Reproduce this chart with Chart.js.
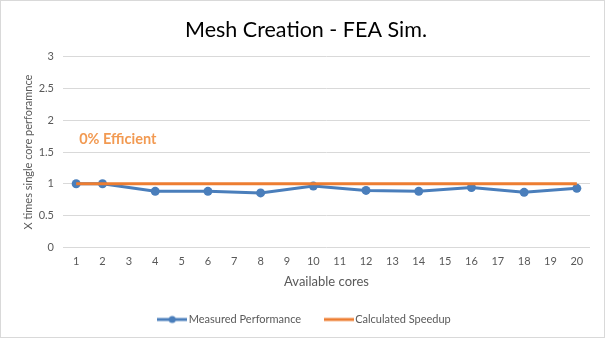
<!DOCTYPE html>
<html>
<head>
<meta charset="utf-8">
<script src="https://cdn.jsdelivr.net/npm/chart.js@4/dist/chart.umd.min.js"></script>
<style>
html,body{margin:0;padding:0;background:#fff;}
#wrap{width:605px;height:338px;position:relative;}
</style>
</head>
<body>
<div id="wrap"><canvas id="c" width="605" height="338"></canvas></div>
<script>
const categories = ['1','2','3','4','5','6','7','8','9','10','11','12','13','14','15','16','17','18','19','20'];
const measured = [1.0, 1.0, null, 0.88, null, 0.88, null, 0.855, null, 0.963, null, 0.895, null, 0.88, null, 0.94, null, 0.864, null, 0.927];
const calculated = [1,1,1,1,1,1,1,1,1,1,1,1,1,1,1,1,1,1,1,1];
const yTicks = [0, 0.5, 1, 1.5, 2, 2.5, 3];
const annotationText = '0% Efficient';
const annotationAt = {index: 0, value: 1.7};

const BLUE = '#4A7EBB';
const ORANGE = '#ED7D31';
const FONT = 'Lato, "Open Sans", sans-serif';

function legendImage(color, dot) {
  const c = document.createElement('canvas');
  c.width = 30; c.height = 10;
  const g = c.getContext('2d');
  g.strokeStyle = color; g.lineWidth = 3;
  g.beginPath(); g.moveTo(0,5); g.lineTo(30,5); g.stroke();
  if (dot) { g.fillStyle = color; g.beginPath(); g.arc(15,5,3.5,0,Math.PI*2); g.fill(); }
  return c;
}
const legBlue = legendImage(BLUE, true);
const legOrange = legendImage(ORANGE, false);

const extras = {
  id: 'extras',
  afterDraw(chart) {
    const ctx = chart.ctx;
    ctx.save();
    ctx.strokeStyle = '#d9d9d9';
    ctx.lineWidth = 1;
    ctx.strokeRect(0.5, 0.5, chart.width - 1, chart.height - 1);
    const xs = chart.scales.x, ys = chart.scales.y;
    ctx.font = 'bold 14.5px ' + FONT;
    ctx.fillStyle = '#F29A52';
    ctx.textAlign = 'left';
    ctx.textBaseline = 'middle';
    ctx.fillText(annotationText, xs.getPixelForValue(annotationAt.index) + 3, ys.getPixelForValue(annotationAt.value));
    ctx.restore();
  }
};

new Chart(document.getElementById('c'), {
  type: 'line',
  data: {
    labels: categories,
    datasets: [
      {
        label: 'Measured Performance',
        data: measured,
        borderColor: BLUE,
        backgroundColor: BLUE,
        borderWidth: 3,
        pointRadius: 4.5,
        pointHoverRadius: 4.5,
        pointBorderWidth: 0,
        spanGaps: true,
        tension: 0,
        order: 2
      },
      {
        label: 'Calculated Speedup',
        data: calculated,
        borderColor: ORANGE,
        backgroundColor: ORANGE,
        borderWidth: 3,
        pointRadius: 0,
        tension: 0,
        order: 1
      }
    ]
  },
  options: {
    responsive: false,
    animation: false,
    devicePixelRatio: 1,
    layout: {padding: {left: 22, right: 15, top: 13, bottom: 3}},
    plugins: {
      title: {
        display: true,
        text: 'Mesh Creation - FEA Sim.',
        color: '#000',
        font: {family: FONT, size: 21.5, weight: 'normal'},
        padding: {top: 4, bottom: 14}
      },
      legend: {
        position: 'bottom',
        labels: {
          color: '#595959',
          font: {family: FONT, size: 11},
          usePointStyle: true,
          pointStyleWidth: 22,
          boxHeight: 8,
          padding: 10,
          generateLabels(chart) {
            return [
              {text: 'Measured Performance\u2003\u2003', pointStyle: legBlue, fillStyle: BLUE, strokeStyle: BLUE, lineWidth: 0, datasetIndex: 0, fontColor: '#595959'},
              {text: 'Calculated Speedup', pointStyle: legOrange, fillStyle: ORANGE, strokeStyle: ORANGE, lineWidth: 0, datasetIndex: 1, fontColor: '#595959'}
            ];
          }
        }
      },
      tooltip: {enabled: false}
    },
    scales: {
      x: {
        offset: true,
        grid: {display: false},
        border: {display: false},
        ticks: {color: '#595959', font: {family: FONT, size: 11}, maxRotation: 0, autoSkip: false, padding: 0},
        title: {display: true, text: 'Available cores', color: '#595959', font: {family: FONT, size: 13}, padding: {top: 6, bottom: 14}}
      },
      y: {
        min: 0, max: 3,
        afterBuildTicks(scale) { scale.ticks = yTicks.map(v => ({value: v})); },
        grid: {color: '#d9d9d9', drawTicks: false},
        border: {display: false},
        ticks: {color: '#595959', font: {family: FONT, size: 11}, padding: 9, callback: v => String(v)},
        title: {display: true, text: 'X times single core perforamnce', color: '#595959', font: {family: FONT, size: 11}, padding: {top: 0, bottom: 4}},
        afterFit(scale) { scale.width = 41; }
      }
    }
  },
  plugins: [extras]
});
</script>
</body>
</html>
